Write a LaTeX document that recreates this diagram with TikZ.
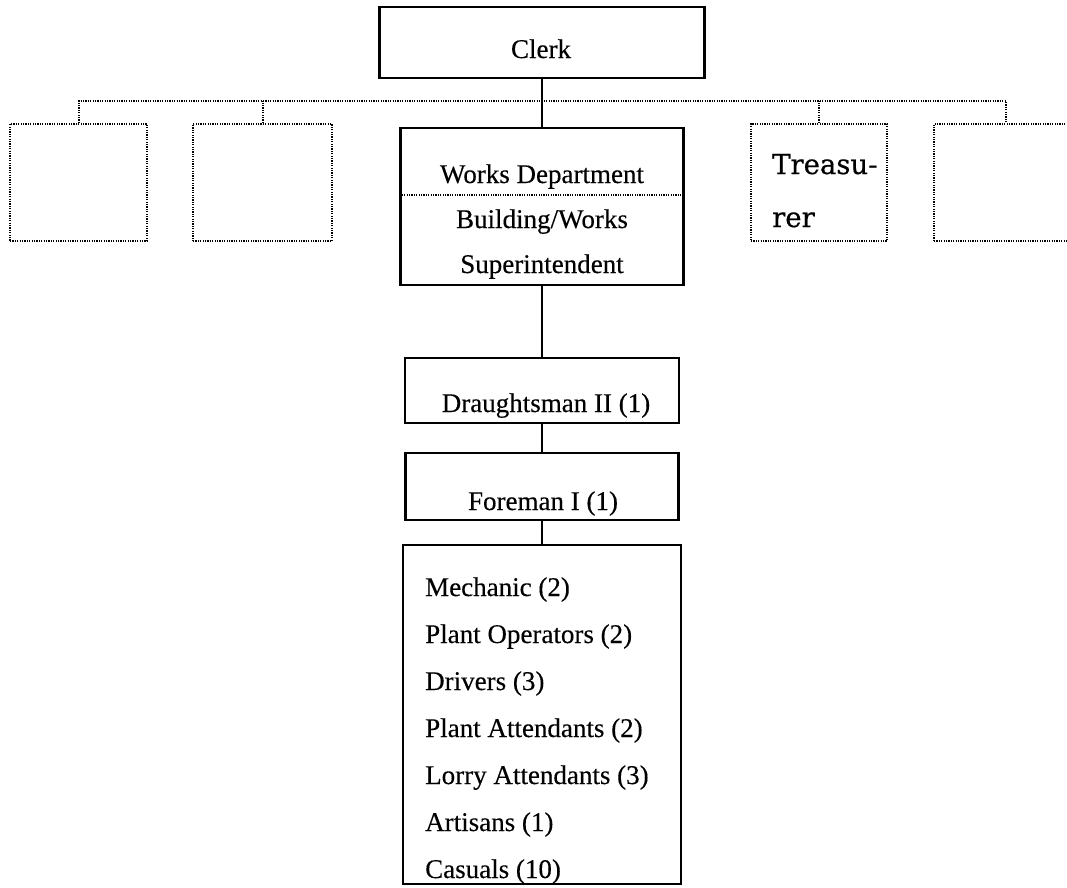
\documentclass[tikz,border=0pt]{standalone}
\usepackage{fontspec}
\setmainfont{Liberation Serif}[FakeBold=0.3]
\newfontfamily\treasfont{DejaVu Serif}[FakeBold=0.5]
\begin{document}
\begin{tikzpicture}[x=1pt,y=-1pt]
\tikzset{
  box/.style={draw, line width=2.2pt, inner sep=0pt, rectangle},
  dotbox/.style={draw, line width=2pt, dash pattern=on 1.2pt off 1.2pt, inner sep=0pt, rectangle},
  link/.style={line width=2pt},
  dotlink/.style={line width=2pt, dash pattern=on 1.2pt off 1.2pt},
  lbl/.style={anchor=base, inner sep=0pt, font=\fontsize{27}{47}\selectfont},
  lbll/.style={lbl, anchor=base west},
  tlbl/.style={anchor=base west, inner sep=0pt, font=\treasfont\fontsize{27.5}{30}\selectfont},
}
% page frame
\clip (0,0) rectangle (1067,887);

% main column
\node[box, minimum width=325pt, minimum height=71pt]  (clerk)   at (542,42.5)  {};
\node[box, minimum width=283pt, minimum height=157pt] (works)   at (542,206.5) {};
\node[box, minimum width=274pt, minimum height=65pt]  (draught) at (542,390.5) {};
\node[box, minimum width=273pt, minimum height=67pt]  (foreman) at (542,486.5) {};
\node[box, minimum width=278pt, minimum height=339pt] (staff)   at (542,714.5) {};

% other departments (dotted)
\node[dotbox, minimum width=137pt, minimum height=117pt] (d1)    at (78.5,182.5)  {};
\node[dotbox, minimum width=139pt, minimum height=117pt] (d2)    at (262.5,182.5) {};
\node[dotbox, minimum width=136pt, minimum height=117pt] (treas) at (819,182.5)   {};
\node[dotbox, minimum width=144pt, minimum height=117pt] (d5)    at (1006,182.5)  {};

% dotted bus to the departments
\coordinate (bus) at (0,101);
\draw[dotlink] (d1.north) -- (d1.north |- bus) -- (d5.north |- bus) -- (d5.north);
\draw[dotlink] (d2.north) -- (d2.north |- bus);
\draw[dotlink] (treas.north) -- (treas.north |- bus);

% solid chain
\draw[link] (clerk) -- (works);
\draw[link] (works) -- (draught);
\draw[link] (draught) -- (foreman);
\draw[link] (foreman) -- (staff);

% divider inside works box
\coordinate (divy) at (0,195);
\draw[dotlink] (works.west |- divy) -- (works.east |- divy);

% labels
\node[lbl] (tclerk) at (541,58)  {Clerk};
\node[lbl] (twd)    at (542,183) {Works Department};
\node[lbl] (tbw)    at (542,228) {Building/Works};
\node[lbl] (tsup)   at (542,273) {Superintendent};
\node[lbl] (tdr)    at (546,412) {Draughtsman II (1)};
\node[lbl] (tfm)    at (543,510) {Foreman I (1)};

\node[tlbl] (tt1) at (772,174) {Treasu-};
\node[tlbl] (tt2) at (772,227) {rer};

\node[lbll] (s1) at (425,596) {Mechanic (2)};
\node[lbll] (s2) at (425,643) {Plant Operators (2)};
\node[lbll] (s3) at (425,690) {Drivers (3)};
\node[lbll] (s4) at (425,737) {Plant Attendants (2)};
\node[lbll] (s5) at (425,784) {Lorry Attendants (3)};
\node[lbll] (s6) at (425,831) {Artisans (1)};
\node[lbll] (s7) at (425,878) {Casuals (10)};
\end{tikzpicture}
\end{document}
